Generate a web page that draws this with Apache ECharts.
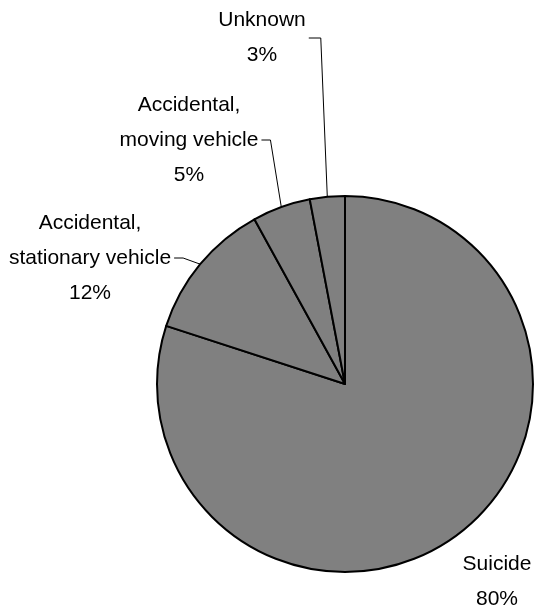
<!DOCTYPE html>
<html>
<head>
<meta charset="utf-8">
<script src="https://cdn.jsdelivr.net/npm/echarts@6/dist/echarts.min.js"></script>
<style>
html,body{margin:0;padding:0;background:#fff;}
#chart{width:534px;height:608px;}
</style>
</head>
<body>
<div id="chart"></div>
<script>
var categories = ['Suicide', 'Accidental,\nstationary vehicle', 'Accidental,\nmoving vehicle', 'Unknown'];
var values = [80, 12, 5, 3];

// label centre positions (layout, in px)
var labelPos = [[497, 582], [90, 258], [189, 140], [262, 38]];

var chart = echarts.init(document.getElementById('chart'), null, {renderer: 'canvas'});
var data = categories.map(function (c, i) { return {name: c, value: values[i]}; });

chart.setOption({
  animation: false,
  backgroundColor: '#ffffff',
  series: [{
    type: 'pie',
    center: [345, 384],
    radius: [0, 188],
    startAngle: 90,
    clockwise: true,
    avoidLabelOverlap: false,
    data: data,
    itemStyle: {color: '#808080', borderColor: '#000000', borderWidth: 2},
    emphasis: {disabled: true},
    label: {
      show: true,
      position: 'outside',
      formatter: function (p) { return p.name + '\n' + Math.round(p.percent) + '%'; },
      fontFamily: 'Liberation Sans, Arial, sans-serif',
      fontSize: 21,
      lineHeight: 35,
      color: '#000',
      align: 'center'
    },
    labelLine: {show: true, length: 10, length2: 10, lineStyle: {color: '#000', width: 1}},
    labelLayout: function (params) {
      var i = params.dataIndex;
      var pos = labelPos[i];
      var w = params.labelRect.width;
      var res = {x: pos[0], y: pos[1], align: 'center', verticalAlign: 'middle'};
      var edge = params.labelLinePoints ? params.labelLinePoints[0] : null;
      if (i === 0 || !edge) {
        res.labelLinePoints = [[0, 0], [0, 0], [0, 0]];
      } else {
        var right = pos[0] + w / 2 + 3;
        var bend = i === 3 ? right + 12 : right + 9;
        res.labelLinePoints = [[edge[0], edge[1]], [bend, pos[1]], [right, pos[1]]];
      }
      return res;
    }
  }]
});
</script>
</body>
</html>
